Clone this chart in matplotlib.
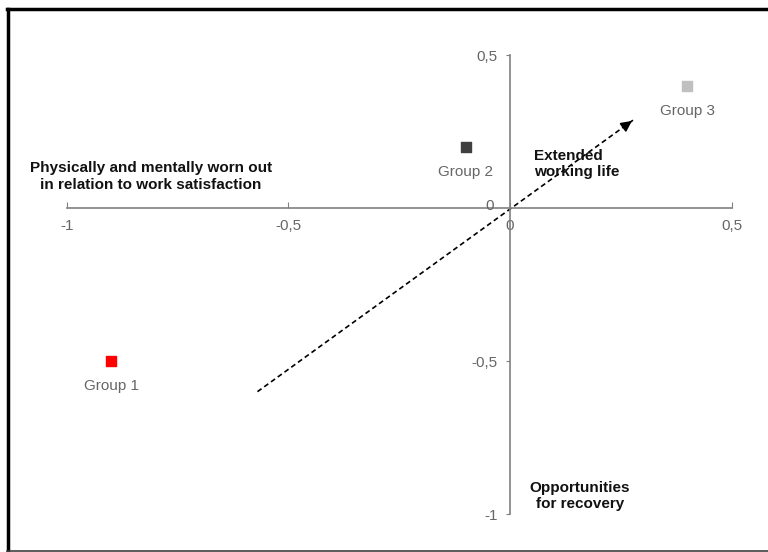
import matplotlib.pyplot as plt
from matplotlib.lines import Line2D

plt.rcParams['font.family'] = ['Liberation Sans', 'DejaVu Sans']

# Group positions
groups = ["Group 1", "Group 2", "Group 3"]
x_vals = [-0.9, -0.1, 0.4]
y_vals = [-0.5, 0.2, 0.4]
colors = ["#FF0000", "#404040", "#C0C0C0"]

# Arrow: start -> end
arrow_x = [-0.57, 0.28]
arrow_y = [-0.6, 0.29]

x_ticks = [-1, -0.5, 0, 0.5]
x_tick_labels = ["-1", "-0,5", "0", "0,5"]
y_ticks = [-1, -0.5, 0.5]
y_tick_labels = ["-1", "-0,5", "0,5"]

fig = plt.figure(figsize=(7.68, 5.52), dpi=100)
ax = fig.add_axes([0, 0, 1, 1])
ax.set_xlim(-1.151, 0.582)
ax.set_ylim(-1.124, 0.680)

# axes through origin
for side in ["top", "right"]:
    ax.spines[side].set_visible(False)
ax.spines["left"].set_position(("data", 0))
ax.spines["bottom"].set_position(("data", 0))
ax.spines["left"].set_bounds(-1, 0.5)
ax.spines["bottom"].set_bounds(-1, 0.5)
ax.spines["left"].set_color("#808080")
ax.spines["bottom"].set_color("#808080")
ax.spines["left"].set_linewidth(1.2)
ax.spines["bottom"].set_linewidth(1.2)

ax.set_xticks(x_ticks)
ax.set_xticklabels(x_tick_labels)
ax.set_yticks(y_ticks)
ax.set_yticklabels(y_tick_labels)
ax.tick_params(axis="x", direction="in", length=4, color="#808080",
               labelcolor="#666666", labelsize=11, pad=8)
ax.tick_params(axis="y", direction="out", length=3, color="#808080",
               labelcolor="#666666", labelsize=11, pad=6)
ax.text(-0.036, 0.007, "0", ha="right", va="center", color="#666666", fontsize=11)

# points
for g, x, y, c in zip(groups, x_vals, y_vals, colors):
    ax.scatter([x], [y], marker="s", s=60, color=c, zorder=3)
    ax.annotate(g, (x, y), xytext=(0, -18), textcoords="offset points",
                ha="center", va="center", color="#666666", fontsize=11)

# dashed arrow
ax.plot(arrow_x, arrow_y, color="black", linestyle=(0, (3, 2)), linewidth=1.2)
ax.annotate("", xy=(arrow_x[1], arrow_y[1]),
            xytext=(arrow_x[1] - 0.03, arrow_y[1] - 0.0314),
            arrowprops=dict(arrowstyle="-|>", color="black", lw=1.2,
                            mutation_scale=16))

# quadrant labels
ax.text(-0.811, 0.103, "Physically and mentally worn out\nin relation to work satisfaction",
        ha="center", va="center", fontsize=11, fontweight="bold", linespacing=1.2,
        color="#111111")
ax.text(0.053, 0.144, "Extended\nworking life",
        ha="left", va="center", fontsize=11, fontweight="bold", linespacing=1.2,
        color="#111111")
ax.text(0.158, -0.94, "Opportunities\nfor recovery",
        ha="center", va="center", fontsize=11, fontweight="bold", linespacing=1.2,
        color="#111111")

# frame around the figure (left, top thick, bottom thin)
fig.add_artist(Line2D([8 / 768, 8 / 768], [0, 1 - 9 / 552], color="black", lw=2.5,
                      transform=fig.transFigure))
fig.add_artist(Line2D([7 / 768, 1], [1 - 9 / 552, 1 - 9 / 552], color="black", lw=2.5,
                      transform=fig.transFigure))
fig.add_artist(Line2D([7 / 768, 1], [1 / 552, 1 / 552], color="#404040", lw=1.2,
                      transform=fig.transFigure))

fig.savefig("out.png", dpi=100)
